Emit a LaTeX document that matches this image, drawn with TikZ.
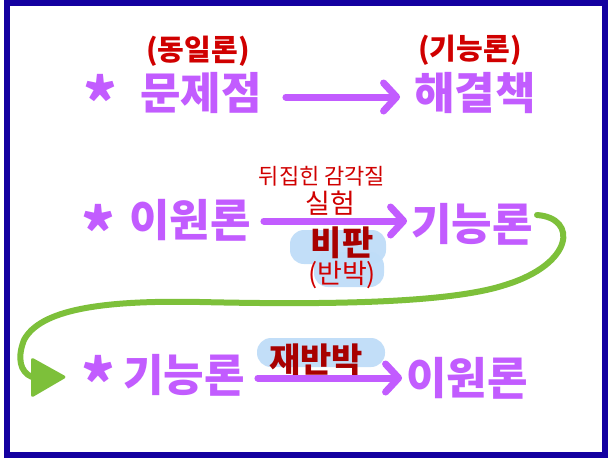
\documentclass[tikz,border=0pt]{standalone}
\usepackage{fontspec}
\setmainfont{Noto Sans CJK KR}
\usetikzlibrary{arrows.meta}
\definecolor{pur}{HTML}{C25CFF}
\definecolor{redlab}{HTML}{D00000}
\definecolor{darkred}{HTML}{A80000}
\definecolor{hilite}{HTML}{BFDDF8}
\definecolor{grn}{HTML}{7DC03A}
\definecolor{framecol}{HTML}{1400A0}
\begin{document}
\begin{tikzpicture}[x=1pt,y=-1pt,
  ptext/.style={text=pur,font=\fontsize{44}{48}\selectfont\bfseries,inner sep=0pt},
  startext/.style={text=pur,font=\fontsize{64}{68}\selectfont\bfseries,inner sep=0pt},
  rlabel/.style={text=redlab,font=\fontsize{29}{32}\selectfont\bfseries,inner sep=0pt},
  rsmall/.style={text=redlab,font=\fontsize{22}{26}\selectfont,inner sep=0pt},
  rmid/.style={text=redlab,font=\fontsize{27}{30}\selectfont,inner sep=0pt},
  rbold/.style={text=darkred,font=\fontsize{34}{38}\selectfont\bfseries,inner sep=0pt},
  parrow/.style={draw=pur,line width=7pt,line cap=round,line join=round,
    -{Straight Barb[length=13pt,width=28pt,round]}},
  gline/.style={draw=grn,line width=6pt,line cap=round},
  hl/.style={fill=hilite,opacity=0.95}
]
\useasboundingbox (0,0) rectangle (613,461);
\fill[white] (0,0) rectangle (613,461);
\draw[framecol,line width=6.5pt] (7,3) rectangle (605,455);

% highlights
\fill[hl,rounded corners=14pt] (290,230) rectangle (386,264);
\fill[hl,rounded corners=14pt] (314,252) rectangle (384,287);
\fill[hl,rounded corners=14pt] (257,338) rectangle (385,367);

% row 1
\node[startext] (star1) at (100,100) {*};
\node[ptext] (prob) at (201,93) {문제점};
\node[ptext] (sol) at (475,93) {해결책};
\node[rlabel] (lab1a) at (198,51) {(동일론)};
\node[rlabel] (lab1b) at (470,50) {(기능론)};
\draw[parrow] ([shift={(24,4)}]prob.east) -- ([shift={(-14,4)}]sol.west);

% row 2
\node[startext] (star2) at (98,230) {*};
\node[ptext] (dual2) at (190,220) {이원론};
\node[ptext] (func2) at (472,224) {기능론};
\node[rsmall] (lab2a) at (322,176) {뒤집힌 감각질};
\node[rmid] (lab2b) at (330,203) {실험};
\node[rbold] (crit) at (342,243) {비판};
\node[rmid] (rebut) at (342,275) {(반박)};
\draw[parrow] ([shift={(13,1)}]dual2.east) -- ([shift={(-4,-3)}]func2.west);

% row 3
\node[startext] (star3) at (98,381) {*};
\node[ptext] (func3) at (184,375) {기능론};
\node[ptext] (dual3) at (467,378) {이원론};
\node[rbold] (rerebut) at (316,360) {재반박};
\draw[parrow] ([shift={(13,3)}]func3.east) -- ([shift={(-4,0)}]dual3.west);

% green connector
\coordinate (gs) at (537,215);
\coordinate (ge) at (32,377);
\draw[gline] (gs) .. controls (578,218) and (574,264) .. (505,285)
  .. controls (450,303) and (330,305) .. (200,302)
  .. controls (100,300) and (40,310) .. (24,340)
  .. controls (17,358) and (20,372) .. (ge);
\fill[grn,rounded corners=3pt] (31,357) -- (67,377) -- (31,398) -- cycle;
\end{tikzpicture}
\end{document}
